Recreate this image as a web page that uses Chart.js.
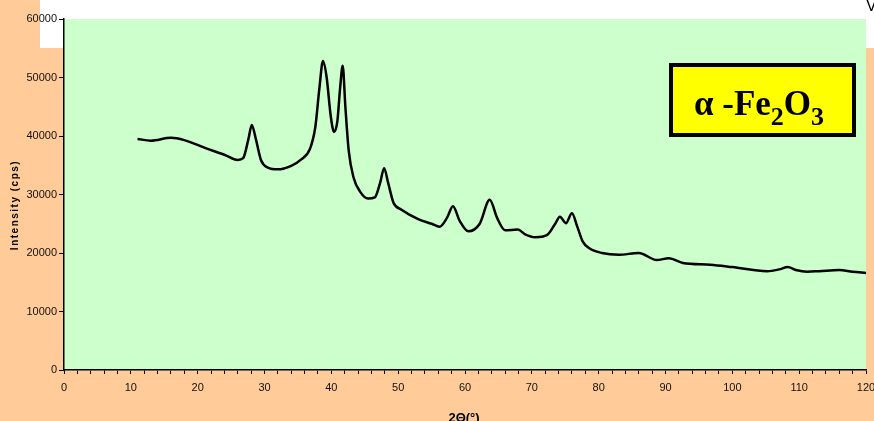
<!DOCTYPE html>
<html>
<head>
<meta charset="utf-8">
<script src="https://cdn.jsdelivr.net/npm/chart.js@4/dist/chart.umd.min.js"></script>
<style>
  html, body { margin: 0; padding: 0; background: #FFCC99; }
  #wrap { width: 874px; height: 421px; position: relative; }
</style>
</head>
<body>
<div id="wrap"><canvas id="xrdChart"></canvas></div>
<script>
// 2-theta positions (degrees) and measured intensity (cps)
const angles = [11, 13, 16, 18, 21, 24, 26, 26.8, 27.6, 28.1, 28.7, 29.5, 30.5, 32, 34, 35.5, 36.8, 37.6, 38.2, 38.75,
    39.3, 39.9, 40.4, 40.9, 41.3, 41.7, 42.1, 42.6, 43.3, 44.3, 45.5, 46.5, 47.3, 47.9, 48.5, 49.3, 50.5, 53, 55, 56.2,
    57.3, 58.2, 59.2, 60.5, 62.2, 63.7, 64.8, 66, 67.9, 69, 70.5, 72.3, 73.5, 74.2, 75.1, 76.0, 76.8, 77.6, 78.6, 80.5,
    83, 86, 88.7, 90.5, 92.6, 96.7, 100, 105.2, 107, 108.3, 109.5, 111.2, 113, 116, 118, 120];
const intensity = [39500, 39200, 39700, 39300, 38000, 36800, 35900, 36200, 39500, 41900, 39500, 35800, 34600, 34300, 34900, 36000, 37800, 41500, 48000, 52800,
    50000, 43500, 40700, 42500, 48000, 52000, 45000, 37500, 33000, 30500, 29300, 29500, 32000, 34500, 32000, 28600, 27400, 25800, 25000, 24500,
    26000, 28000, 25500, 23700, 25000, 29100, 26000, 23900, 24000, 23200, 22700, 23100, 25000, 26200, 25100, 26800, 24500, 22000, 20800, 20000,
    19700, 20000, 18800, 19100, 18300, 18000, 17600, 16900, 17200, 17600, 17100, 16800, 16900, 17100, 16800, 16600];

const xTicks = [0, 10, 20, 30, 40, 50, 60, 70, 80, 90, 100, 110, 120];
const yTicks = [0, 10000, 20000, 30000, 40000, 50000, 60000];

const points = angles.map((a, i) => ({ x: a, y: intensity[i] }));

// Backgrounds, title texts and the phase label box
const decorPlugin = {
    id: 'decor',
    beforeDraw(chart) {
        const ctx = chart.ctx;
        const area = chart.chartArea;
        ctx.save();
        ctx.fillStyle = '#FFCC99';
        ctx.fillRect(0, 0, chart.width, chart.height);
        ctx.fillStyle = '#FFFFFF';
        ctx.fillRect(40, 0, chart.width - 40, 48);
        ctx.fillStyle = '#CCFFCC';
        ctx.fillRect(area.left, area.top, area.right - area.left, area.bottom - area.top);
        ctx.restore();
    },
    afterDraw(chart) {
        const ctx = chart.ctx;
        ctx.save();

        // y axis title
        ctx.translate(15, 205);
        ctx.rotate(-Math.PI / 2);
        ctx.fillStyle = '#000';
        ctx.font = 'bold 10px "Liberation Sans", Arial, sans-serif';
        ctx.letterSpacing = '1.5px';
        ctx.textAlign = 'center';
        ctx.textBaseline = 'middle';
        ctx.fillText('Intensity (cps)', 0, 0);
        ctx.restore();

        // x axis title (cut by the bottom edge)
        ctx.save();
        ctx.fillStyle = '#000';
        ctx.font = 'bold 13px "Liberation Sans", Arial, sans-serif';
        ctx.textAlign = 'center';
        ctx.textBaseline = 'alphabetic';
        ctx.fillText('2Θ(°)', 464, 422);

        // stray glyph at the top right
        ctx.font = '16px "Liberation Sans", Arial, sans-serif';
        ctx.textAlign = 'left';
        ctx.fillText('V', 866, 11);

        // phase label box
        ctx.fillStyle = '#FFFF00';
        ctx.fillRect(670, 64, 185, 72);
        ctx.strokeStyle = '#000';
        ctx.lineWidth = 4;
        ctx.strokeRect(671, 65, 183, 70);

        ctx.fillStyle = '#000';
        ctx.textAlign = 'left';
        const big = 'bold 35px "Liberation Serif", "Times New Roman", serif';
        const small = 'bold 26px "Liberation Serif", "Times New Roman", serif';
        let x = 694;
        const base = 115;
        const parts = [['α -Fe', big, 0], ['2', small, 10], ['O', big, 0], ['3', small, 10]];
        parts.forEach(p => {
            ctx.font = p[1];
            ctx.fillText(p[0], x, base + p[2]);
            x += ctx.measureText(p[0]).width;
        });
        ctx.restore();
    }
};

const ctx = document.getElementById('xrdChart').getContext('2d');
new Chart(ctx, {
    type: 'line',
    data: {
        datasets: [{
            data: points,
            borderColor: '#000000',
            borderWidth: 2.5,
            pointRadius: 0,
            cubicInterpolationMode: 'monotone',
            fill: false
        }]
    },
    options: {
        responsive: true,
        maintainAspectRatio: false,
        animation: false,
        layout: { padding: { top: 19, right: 8, left: 0, bottom: 0 } },
        plugins: {
            legend: { display: false },
            tooltip: { enabled: false }
        },
        scales: {
            x: {
                type: 'linear',
                min: 0,
                max: 120,
                afterFit: function(scale) {
                    scale.height = 51;
                    scale.paddingLeft = 0;
                    scale.paddingRight = 0;
                },
                afterBuildTicks: function(scale) {
                    const t = [];
                    for (let v = 0; v <= 120; v += 2) t.push({ value: v });
                    scale.ticks = t;
                },
                border: { color: '#000', width: 1.5 },
                grid: { drawOnChartArea: false, color: '#000', tickLength: 4, lineWidth: 1 },
                ticks: {
                    autoSkip: false,
                    maxRotation: 0,
                    padding: 7,
                    color: '#111',
                    font: { family: '"Liberation Sans", Arial, sans-serif', size: 11 },
                    callback: function(value) {
                        return xTicks.includes(value) ? String(value) : '';
                    }
                }
            },
            y: {
                min: 0,
                max: 60000,
                afterFit: function(scale) {
                    scale.width = 64;
                    scale.paddingTop = 0;
                    scale.paddingBottom = 0;
                },
                afterBuildTicks: function(scale) {
                    scale.ticks = yTicks.map(v => ({ value: v }));
                },
                border: { color: '#000', width: 1.5 },
                grid: { drawOnChartArea: false, color: '#000', tickLength: 5, lineWidth: 1 },
                ticks: {
                    padding: 2,
                    color: '#111',
                    font: { family: '"Liberation Sans", Arial, sans-serif', size: 11 },
                    callback: function(value) { return String(value); }
                }
            }
        }
    },
    plugins: [decorPlugin]
});
</script>
</body>
</html>
